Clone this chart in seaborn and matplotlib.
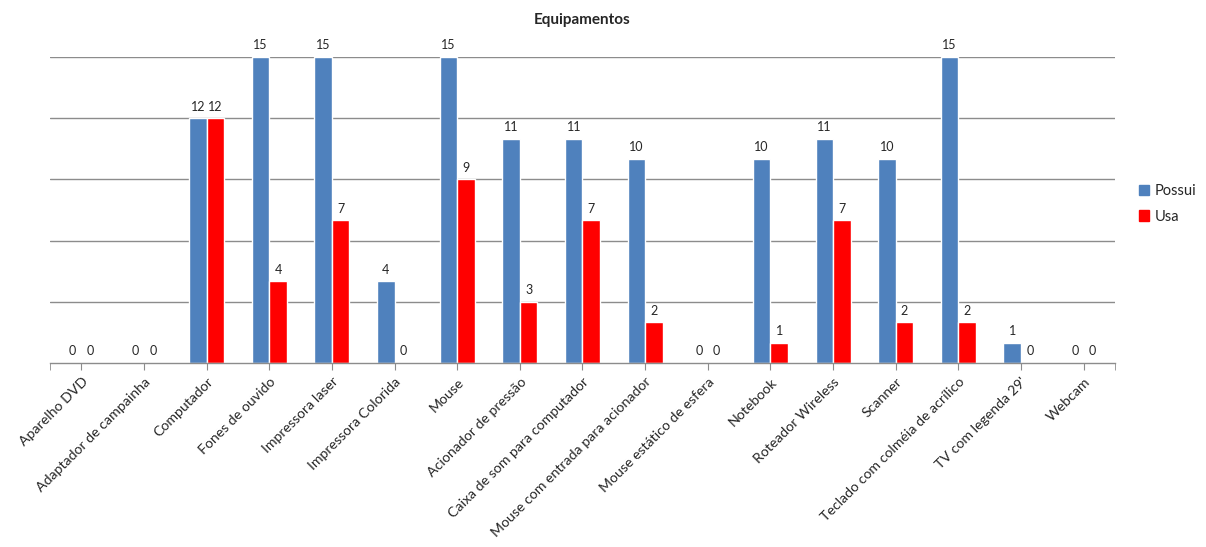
import matplotlib
matplotlib.use('Agg')
import matplotlib.pyplot as plt
import seaborn as sns
import pandas as pd

categorias = ["Aparelho DVD", "Adaptador de campainha", "Computador", "Fones de ouvido",
              "Impressora laser", "Impressora Colorida", "Mouse", "Acionador de pressão",
              "Caixa de som para computador", "Mouse com entrada para acionador",
              "Mouse estático de esfera", "Notebook", "Roteador Wireless", "Scanner",
              "Teclado com colméia de acrílico", "TV com legenda 29'", "Webcam"]
possui = [0, 0, 12, 15, 15, 4, 15, 11, 11, 10, 0, 10, 11, 10, 15, 1, 0]
usa = [0, 0, 12, 4, 7, 0, 9, 3, 7, 2, 0, 1, 7, 2, 2, 0, 0]
series = ["Possui", "Usa"]
cores = {"Possui": "#4F81BD", "Usa": "#FF0000"}

df = pd.DataFrame({
    "cat": categorias * 2,
    "valor": possui + usa,
    "serie": [series[0]] * len(categorias) + [series[1]] * len(categorias),
})

sns.set_style("white")
plt.rcParams['font.family'] = ['Lato', 'DejaVu Sans']

fig = plt.figure(figsize=(12.06, 5.47), dpi=100)
ax = fig.add_axes([0.0415, 0.3364, 0.883, 0.5594])

sns.barplot(data=df, x="cat", y="valor", hue="serie", palette=cores,
            width=0.56, saturation=1, ax=ax, legend=False)

for cont in ax.containers:
    ax.bar_label(cont, fmt='%d', padding=4, fontsize=9)

ax.set_ylim(0, 15)
ax.set_xlim(-0.5, len(categorias) - 0.5)
ax.set_yticks([])
for v in [3, 6, 9, 12, 15]:
    ax.axhline(v, color="#8c8c8c", lw=1, zorder=0)
for s in ["top", "right", "left"]:
    ax.spines[s].set_visible(False)
ax.spines["bottom"].set_color("#8c8c8c")
ax.spines["bottom"].set_linewidth(1)

ax.set_xticks(range(len(categorias)))
ax.set_xticklabels(categorias, rotation=45, ha="right", rotation_mode="anchor", fontsize=10.2)
ax.set_xticks([-0.5, len(categorias) - 0.5], minor=True)
ax.tick_params(axis="x", which="both", bottom=True, length=5, color="#8c8c8c", pad=4)
ax.set_xlabel("")
ax.set_ylabel("")
ax.set_title("Equipamentos", fontsize=11, fontweight="bold", pad=24)

handles = [plt.Rectangle((0, 0), 1, 1, color=cores[s]) for s in series]
ax.legend(handles, series, loc="center left", bbox_to_anchor=(1.01, 0.52),
          frameon=False, fontsize=10.5, handlelength=0.7, handleheight=0.7,
          handletextpad=0.4, labelspacing=0.8)

fig.savefig("out.png", dpi=100)
